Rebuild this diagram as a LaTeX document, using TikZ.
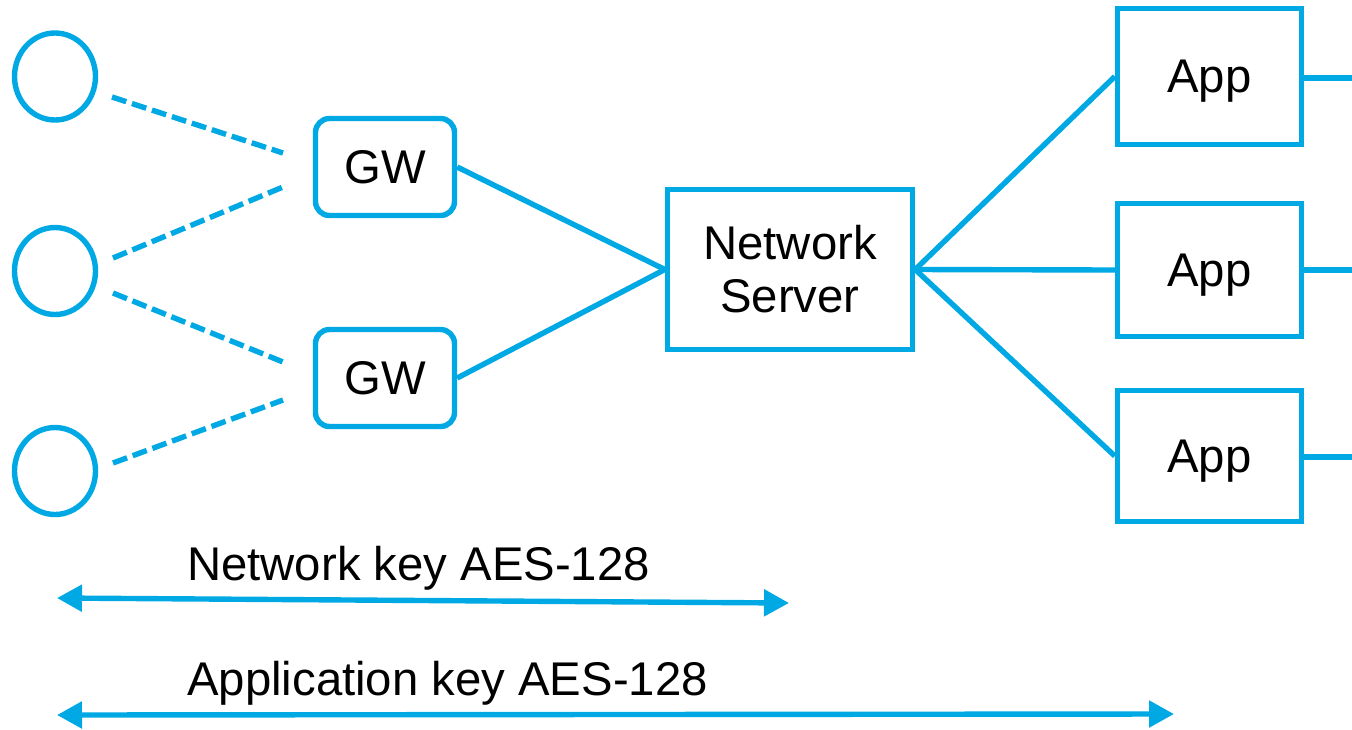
\documentclass[tikz,border=0pt]{standalone}
\usepackage{fontspec}
\setmainfont{Liberation Sans}
\usetikzlibrary{arrows.meta,shapes.geometric}
\definecolor{lora}{RGB}{0,168,228}
\begin{document}
\begin{tikzpicture}[x=1pt,y=-1pt,
  every node/.style={font=\fontsize{47.3pt}{53pt}\selectfont},
  dev/.style={draw=lora,line width=5.4pt,ellipse,minimum width=81pt,minimum height=87pt,inner sep=0pt},
  gwbox/.style={draw=lora,line width=5.4pt,rounded corners=14pt,minimum width=139pt,minimum height=97pt,inner sep=0pt,text depth=0pt},
  sqbox/.style={draw=lora,line width=5.4pt,inner sep=0pt,align=center},
  appbox/.style={sqbox,minimum width=184pt,text depth=0pt},
  link/.style={draw=lora,line width=5.4pt},
  radio/.style={draw=lora,line width=5.4pt,dash pattern=on 15pt off 6pt},
  keyarrow/.style={draw=lora,line width=5.4pt,{Triangle[length=25pt,width=26pt]}-{Triangle[length=25pt,width=26pt]}}
]
\useasboundingbox (0,0) rectangle (1352,729);
% end devices
\node[dev] (d1) at (55,76.5) {};
\node[dev] (d2) at (55,271) {};
\node[dev] (d3) at (55,471) {};
% gateways
\node[gwbox] (gw1) at (385,167) {GW};
\node[gwbox] (gw2) at (385,378) {GW};
% network server
\node[sqbox,minimum width=245pt,minimum height=160pt] (ns) at (790,269.5) {Network\\Server};
% apps
\node[appbox,minimum height=136pt] (a1) at (1209.5,76.5) {App};
\node[appbox,minimum height=133pt] (a2) at (1209.5,270) {App};
\node[appbox,minimum height=131pt] (a3) at (1209.5,456) {App};
% radio link ends
\coordinate (r1a) at (112,97);  \coordinate (r1b) at (283,153);
\coordinate (r2a) at (113,258); \coordinate (r2b) at (283,187);
\coordinate (r3a) at (113,293); \coordinate (r3b) at (283,362);
\coordinate (r4a) at (113,463); \coordinate (r4b) at (283,400);
\draw[radio] (r1a) -- (r1b);
\draw[radio] (r2a) -- (r2b);
\draw[radio] (r3a) -- (r3b);
\draw[radio] (r4a) -- (r4b);
% backhaul
\draw[link] (gw1.east) -- (ns.west);
\draw[link] (gw2.east) -- (ns.west);
\draw[link] (ns.east) -- (a1.west);
\draw[link] (ns.east) -- (a2.west);
\draw[link] (ns.east) -- (a3.west);
% outgoing lines at right edge
\coordinate (o1) at (1352,78);
\coordinate (o2) at (1352,270);
\coordinate (o3) at (1352,457);
\draw[link] (a1.east |- o1) -- (o1);
\draw[link] (a2.east |- o2) -- (o2);
\draw[link] (a3.east |- o3) -- (o3);
% keys
\node[anchor=base west,inner sep=0pt] (nk) at (187,580) {Network key AES-128};
\node[anchor=base west,inner sep=0pt] (ak) at (187,695) {Application key AES-128};
\coordinate (nkL) at (57,598); \coordinate (nkR) at (789,603);
\coordinate (akL) at (57,715); \coordinate (akR) at (1174,714);
\draw[keyarrow] (nkL) -- (nkR);
\draw[keyarrow] (akL) -- (akR);
\end{tikzpicture}
\end{document}
